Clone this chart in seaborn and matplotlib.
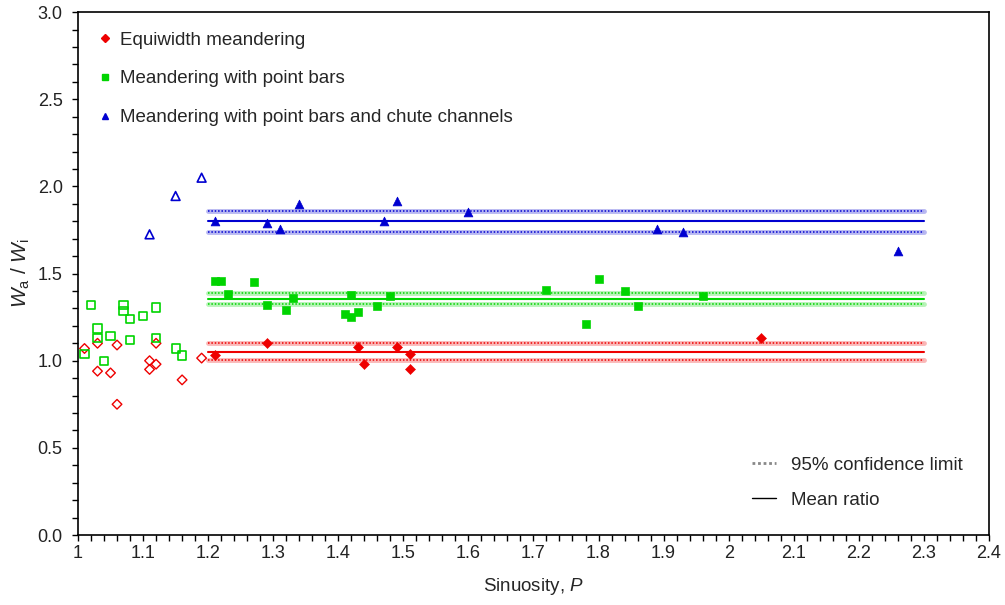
import matplotlib
matplotlib.use('Agg')
import matplotlib.pyplot as plt
from matplotlib.lines import Line2D
import seaborn as sns
import numpy as np

# filled points (used in the mean ratio)
red_x = [1.21, 1.29, 1.43, 1.44, 1.49, 1.51, 1.51, 2.05]
red_y = [1.03, 1.10, 1.08, 0.98, 1.08, 1.04, 0.95, 1.13]
green_x = [1.21, 1.22, 1.27, 1.23, 1.29, 1.32, 1.33, 1.42, 1.41, 1.42, 1.43, 1.46, 1.48,
           1.72, 1.80, 1.84, 1.86, 1.78, 1.96]
green_y = [1.46, 1.46, 1.45, 1.385, 1.32, 1.29, 1.36, 1.375, 1.27, 1.25, 1.28, 1.315, 1.37,
           1.405, 1.47, 1.40, 1.315, 1.21, 1.37]
blue_x = [1.21, 1.34, 1.29, 1.31, 1.47, 1.49, 1.60, 1.89, 1.93, 2.26]
blue_y = [1.80, 1.90, 1.79, 1.755, 1.80, 1.915, 1.855, 1.755, 1.74, 1.63]

# open points (sinuosity below 1.2)
red_open_x = [1.01, 1.03, 1.06, 1.12, 1.11, 1.12, 1.11, 1.03, 1.05, 1.16, 1.06, 1.19]
red_open_y = [1.07, 1.10, 1.09, 1.10, 1.00, 0.98, 0.95, 0.94, 0.93, 0.89, 0.75, 1.015]
green_open_x = [1.02, 1.07, 1.07, 1.12, 1.10, 1.08, 1.03, 1.03, 1.05, 1.08, 1.12, 1.01, 1.04,
                1.15, 1.16]
green_open_y = [1.32, 1.32, 1.285, 1.305, 1.255, 1.24, 1.185, 1.13, 1.14, 1.12, 1.13, 1.04, 1.00,
                1.07, 1.03]
blue_open_x = [1.19, 1.15, 1.11]
blue_open_y = [2.05, 1.945, 1.725]

# mean ratio and 95% confidence limits
red_mean, red_lo, red_hi = 1.048, 1.004, 1.103
green_mean, green_lo, green_hi = 1.352, 1.324, 1.390
blue_mean, blue_lo, blue_hi = 1.800, 1.740, 1.861
line_x = [1.2, 2.3]

RED = '#ee0000'
GREEN = '#00d400'
BLUE = '#0000d0'

sns.set_style('ticks')
plt.rcParams['font.family'] = ['Liberation Sans', 'DejaVu Sans']
plt.rcParams['mathtext.fontset'] = 'custom'
plt.rcParams['mathtext.rm'] = 'Liberation Sans'
plt.rcParams['mathtext.it'] = 'Liberation Sans:italic'

fig = plt.figure(figsize=(10.05, 6.05), dpi=100)
ax = fig.add_axes([0.0776, 0.1157, 0.9064, 0.8643])


def ci_line(y, color):
    sns.lineplot(x=line_x, y=[y, y], color=color, alpha=0.28, linewidth=3.5, ax=ax)
    sns.lineplot(x=line_x, y=[y, y], color=color, linewidth=1.1,
                 linestyle=(0, (1, 1.2)), ax=ax)


for c, m, lo, hi in [(RED, red_mean, red_lo, red_hi),
                     (GREEN, green_mean, green_lo, green_hi),
                     (BLUE, blue_mean, blue_lo, blue_hi)]:
    ci_line(lo, c)
    ci_line(hi, c)
    sns.lineplot(x=line_x, y=[m, m], color=c, linewidth=1.5, ax=ax)

sns.scatterplot(x=red_x, y=red_y, marker='D', s=26, color=RED, edgecolor=RED, ax=ax, zorder=3)
sns.scatterplot(x=green_x, y=green_y, marker='s', s=34, color=GREEN, edgecolor=GREEN, ax=ax, zorder=3)
sns.scatterplot(x=blue_x, y=blue_y, marker='^', s=40, color=BLUE, edgecolor=BLUE, ax=ax, zorder=3)

sns.scatterplot(x=red_open_x, y=red_open_y, marker='D', s=24, facecolor='none', edgecolor=RED,
                linewidth=1, ax=ax, zorder=3)
sns.scatterplot(x=green_open_x, y=green_open_y, marker='s', s=34, facecolor='none', edgecolor=GREEN,
                linewidth=1.2, ax=ax, zorder=3)
sns.scatterplot(x=blue_open_x, y=blue_open_y, marker='^', s=40, facecolor='none', edgecolor=BLUE,
                linewidth=1.2, ax=ax, zorder=3)

ax.set_xlim(1.0, 2.4)
ax.set_ylim(0.0, 3.0)
ax.set_xticks(np.arange(1.0, 2.41, 0.1))
ax.set_xticklabels(['1', '1.1', '1.2', '1.3', '1.4', '1.5', '1.6', '1.7', '1.8', '1.9',
                    '2', '2.1', '2.2', '2.3', '2.4'])
ax.set_xticks(np.arange(1.0, 2.41, 0.02), minor=True)
ax.set_yticks(np.arange(0, 3.01, 0.5))
ax.set_yticklabels(['%.1f' % v for v in np.arange(0, 3.01, 0.5)])
ax.set_yticks(np.arange(0, 3.01, 0.1), minor=True)
ax.tick_params(which='both', direction='out', length=4, width=1, color='black',
               labelsize=13, labelcolor='#222222')
ax.tick_params(axis='y', which='major', pad=7)
ax.tick_params(axis='x', which='major', pad=3)
for s in ax.spines.values():
    s.set_visible(True)
    s.set_color('black')
    s.set_linewidth(1.2)

ax.set_xlabel(r'Sinuosity, $\it{P}$', fontsize=13.5, labelpad=10)
ax.set_ylabel(r'$\it{W}_{\rm a}$ / $\it{W}_{\rm i}$', fontsize=15, labelpad=4)

h1 = [Line2D([], [], marker='D', color=RED, linestyle='none', markersize=4),
      Line2D([], [], marker='s', color=GREEN, linestyle='none', markersize=5),
      Line2D([], [], marker='^', color=BLUE, linestyle='none', markersize=5)]
leg1 = ax.legend(h1, ['Equiwidth meandering', 'Meandering with point bars',
                      'Meandering with point bars and chute channels'],
                 loc='upper left', bbox_to_anchor=(0.003, 0.995), frameon=False, fontsize=13.5,
                 handlelength=0.8, handletextpad=0.4, labelspacing=1.15, borderaxespad=0.5)
ax.add_artist(leg1)

h2 = [Line2D([], [], color='#888888', linewidth=2, linestyle=(0, (1, 1))),
      Line2D([], [], color='black', linewidth=1)]
ax.legend(h2, ['95% confidence limit', 'Mean ratio'], loc='lower right',
          bbox_to_anchor=(0.99, 0.018), frameon=False, fontsize=13.5,
          handlelength=1.3, handletextpad=0.8, labelspacing=0.95)

fig.savefig('out.png', dpi=100, facecolor='white')
